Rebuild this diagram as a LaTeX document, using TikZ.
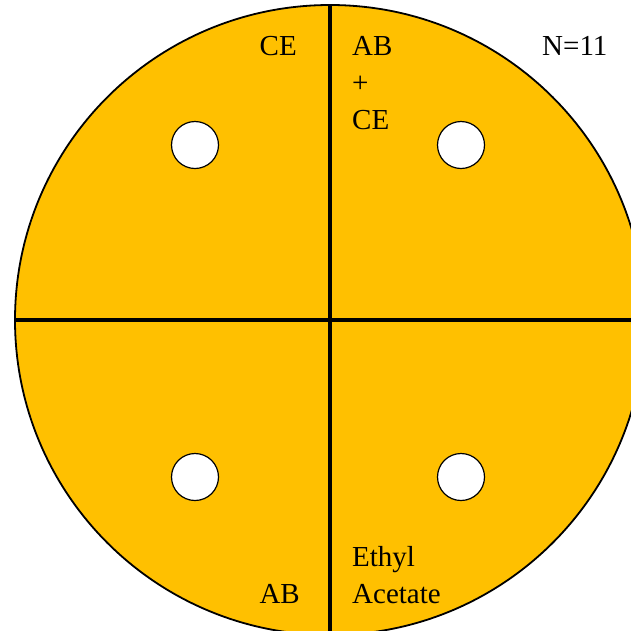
\documentclass[tikz,border=0pt]{standalone}
\usepackage{fontspec}
\setmainfont{Liberation Serif}
\usetikzlibrary{positioning}
\definecolor{platefill}{HTML}{FFC000}
\tikzset{
  hole/.style={draw, fill=white, line width=1.2pt},
  plabel/.style={font=\fontsize{29}{37}\selectfont, inner sep=0pt, align=left},
}
\begin{document}
\begin{tikzpicture}[x=1pt,y=-1pt]
\useasboundingbox (0,0) rectangle (631,630);
\clip (0,0) rectangle (631,630);
\coordinate (c) at (330,320);
% plate
\draw[line width=1.8pt, fill=platefill] (c) circle (315pt);
% quarters
\draw[line width=4pt] (c) ++(0,-315) -- ++(0,630);
\draw[line width=4pt] (c) ++(-315,0) -- ++(630,0);
% wells
\foreach \x/\y in {195/145, 461/145, 195/477, 461/477}
  \draw[hole] (\x,\y) circle (23.5pt);
% labels (base = last line)
\node[plabel, anchor=base east] (ce) at (297,55) {CE};
\node[plabel, anchor=base west] (abce) at (352,129) {AB\\+\\CE};
\node[plabel, anchor=base west] (count) at (542,55) {N=11};
\node[plabel, anchor=base west] (solvent) at (352,603) {Ethyl\\Acetate};
\node[plabel, anchor=base east] (ab) at (300,603) {AB};
\end{tikzpicture}
\end{document}
